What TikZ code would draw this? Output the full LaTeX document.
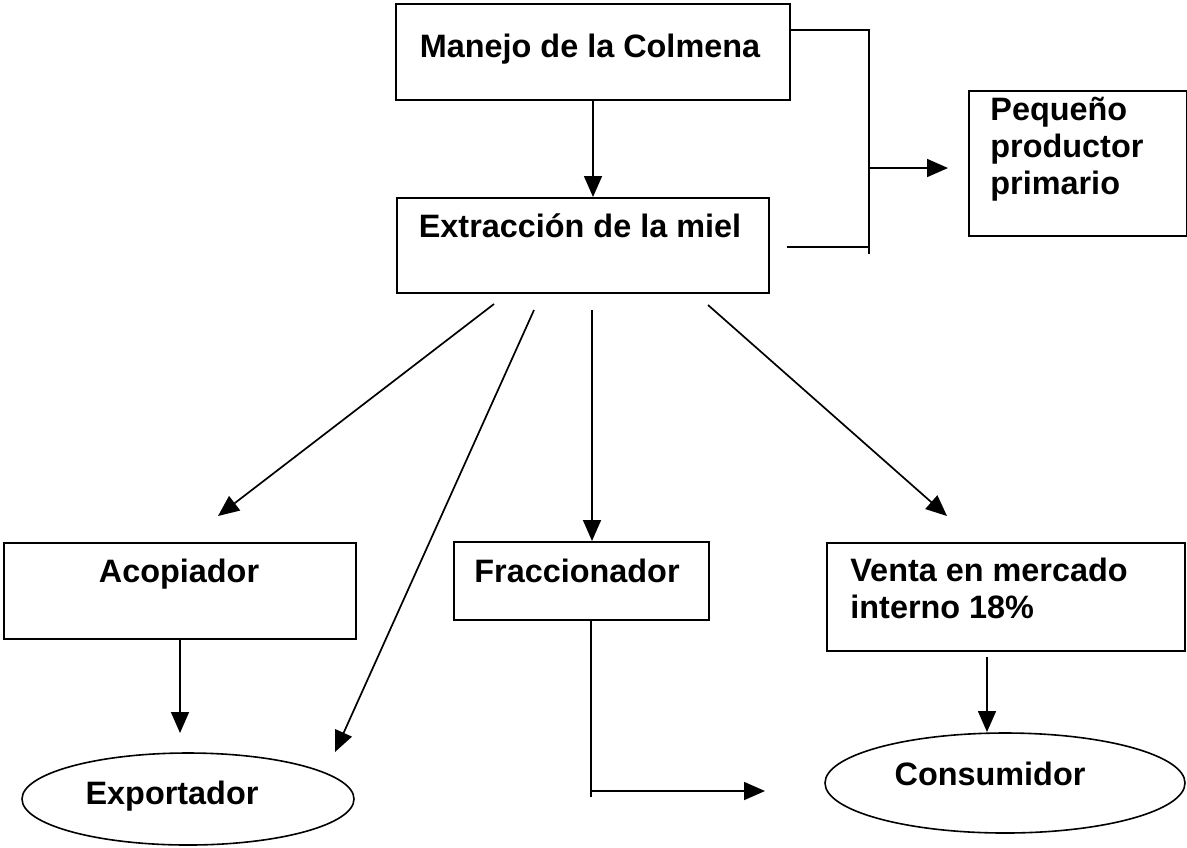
\documentclass[tikz,border=0pt]{standalone}
\usepackage{fontspec}
\setmainfont{Liberation Sans}
\usetikzlibrary{arrows.meta,shapes.geometric}
\begin{document}
\begin{tikzpicture}[x=0.5pt,y=-0.5pt,
  box/.style={draw, line width=1pt, rectangle, inner sep=0pt, anchor=north west},
  oval/.style={draw, line width=0.8pt, ellipse, inner sep=0pt},
  lbl/.style={font=\fontsize{16.2}{18.5}\selectfont\bfseries, inner sep=0pt, anchor=base},
  lbll/.style={lbl, anchor=base west, align=left},
  conn/.style={line width=0.85pt},
  arr/.style={conn, -{Triangle[length=10.5pt,width=9pt]}}
]
\useasboundingbox (0,0) rectangle (1187,847);
% boxes
\node[box, minimum width=197pt, minimum height=48pt] (manejo) at (395,3) {};
\node[box, minimum width=186pt, minimum height=47.5pt] (extr) at (396,197) {};
\node[box, minimum width=109pt, minimum height=72.5pt] (peq) at (968,90) {};
\node[box, minimum width=176pt, minimum height=48pt] (acop) at (3,542) {};
\node[box, minimum width=127.5pt, minimum height=39pt] (frac) at (453,541) {};
\node[box, minimum width=179pt, minimum height=54pt] (venta) at (826,542) {};
\node[oval, minimum width=166pt, minimum height=46pt] (expo) at (188,799) {};
\node[oval, minimum width=180pt, minimum height=50pt] (cons) at (1005,783) {};
% texts
\node[lbl] (manejoT) at (590,57) {Manejo de la Colmena};
\node[lbl] (extrT) at (580,237) {Extracción de la miel};
\node[lbll] (peqT) at (990,194) {Pequeño\\productor\\primario};
\node[lbl] (acopT) at (179,582) {Acopiador};
\node[lbl] (fracT) at (577,582) {Fraccionador};
\node[lbll] (ventaT) at (850,618) {Venta en mercado\\interno 18\%};
\node[lbl] (expoT) at (172,804) {Exportador};
\node[lbl] (consT) at (990,785) {Consumidor};
% coordinates
\coordinate (bt) at (869,30);
\coordinate (bb) at (869,254);
\coordinate (bl) at (787,247);
\coordinate (bm) at (869,168);
\coordinate (pqtip) at (948,168);
\coordinate (d1) at (494,304);
\coordinate (d2) at (534,310);
\coordinate (d3) at (592,310);
\coordinate (d4) at (708,305);
\coordinate (t1) at (218,516);
\coordinate (t2) at (335,752);
\coordinate (t4) at (947,516);
\coordinate (e1) at (179,733);
\coordinate (fc) at (591,797);
\coordinate (fk) at (591,791);
\coordinate (ftip) at (765,791);
\coordinate (v1) at (987,657);
\coordinate (v2) at (987,732);
% connectors
\draw[arr] (manejo.south) -- (manejo.south |- extr.north);
\draw[conn] (manejo.east |- bt) -- (bt) -- (bb);
\draw[conn] (bl) -- (bl -| bt);
\draw[arr] (bm) -- (pqtip);
\draw[arr] (d1) -- (t1);
\draw[arr] (d2) -- (t2);
\draw[arr] (d3) -- (d3 |- frac.north);
\draw[arr] (d4) -- (t4);
\draw[arr] (acop.south) -- (acop.south |- e1);
\draw[conn] (frac.south -| fc) -- (fc);
\draw[arr] (fk) -- (ftip);
\draw[arr] (v1) -- (v2);
\end{tikzpicture}
\end{document}
